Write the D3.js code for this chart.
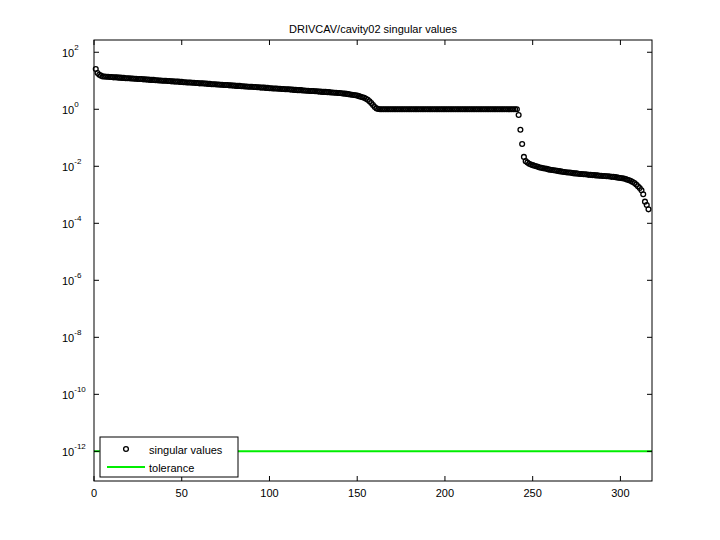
<!DOCTYPE html>
<html>
<head>
<meta charset="utf-8">
<script src="https://cdn.jsdelivr.net/npm/d3@7"></script>
<style>
  body { margin: 0; background: #fff; }
  text { font-family: "Liberation Sans", Arial, sans-serif; font-size: 11px; }
</style>
</head>
<body>
<div id="chart"></div>
<script>
// log10 of singular values, index 1..316
const logSigma = [
  1.41,1.27,1.21,1.18,
  1.15,1.15,1.14,1.14,1.13,1.13,1.12,1.12,1.12,1.11,
  1.11,1.10,1.10,1.09,1.09,1.09,1.08,1.08,1.07,1.07,
  1.06,1.06,1.06,1.05,1.05,1.04,1.04,1.03,1.03,1.03,
  1.02,1.02,1.01,1.01,1.00,1.00,1.00,0.99,0.99,0.98,
  0.98,0.97,0.97,0.97,0.96,0.96,0.95,0.95,0.94,0.94,
  0.94,0.93,0.93,0.92,0.92,0.91,0.91,0.91,0.90,0.90,
  0.89,0.89,0.88,0.88,0.88,0.87,0.87,0.86,0.86,0.85,
  0.85,0.85,0.84,0.84,0.83,0.83,0.82,0.82,0.82,0.81,
  0.81,0.80,0.80,0.79,0.79,0.79,0.78,0.78,0.77,0.77,
  0.76,0.76,0.76,0.75,0.75,0.74,0.74,0.73,0.73,0.73,
  0.72,0.72,0.71,0.71,0.70,0.70,0.70,0.69,0.69,0.68,
  0.68,0.67,0.67,0.67,0.66,0.66,0.65,0.65,0.64,0.64,
  0.64,0.63,0.63,0.62,0.62,0.61,0.61,0.61,0.60,0.60,
  0.59,0.59,0.58,0.58,0.57,0.57,0.56,0.55,0.55,0.54,
  0.53,0.52,0.51,0.50,0.49,0.48,0.46,0.44,0.42,0.40,
  0.37,0.33,0.28,0.22,0.15,0.08,0.03,0.01,
  0,0,0,0,0,0,0,0,0,0,
  0,0,0,0,0,0,0,0,0,0,
  0,0,0,0,0,0,0,0,0,0,
  0,0,0,0,0,0,0,0,0,0,
  0,0,0,0,0,0,0,0,0,0,
  0,0,0,0,0,0,0,0,0,0,
  0,0,0,0,0,0,0,0,0,0,
  0,0,0,0,0,0,0,0,0,
  -0.20,-0.72,-1.22,-1.67,-1.82,
  -1.87,-1.91,-1.94,-1.96,-1.98,-2.00,-2.02,-2.04,-2.05,-2.07,
  -2.08,-2.09,-2.11,-2.12,-2.13,-2.14,-2.15,-2.16,-2.17,-2.18,
  -2.19,-2.20,-2.21,-2.22,-2.22,-2.23,-2.24,-2.25,-2.25,-2.26,
  -2.27,-2.27,-2.28,-2.28,-2.29,-2.30,-2.30,-2.31,-2.31,-2.32,
  -2.32,-2.33,-2.33,-2.34,-2.34,-2.35,-2.35,-2.36,-2.37,-2.37,
  -2.38,-2.39,-2.40,-2.41,-2.42,-2.43,-2.45,-2.47,-2.49,-2.52,
  -2.55,-2.59,-2.64,-2.70,-2.76,
  -2.84,-2.98,-3.24,-3.36,-3.51
];
const tolerance = 1e-12;
const xTicks = [0, 50, 100, 150, 200, 250, 300];
const yExponents = [2, 0, -2, -4, -6, -8, -10, -12];
const title = 'DRIVCAV/cavity02 singular values';

const W = 720, H = 540;
const mLeft = 94, mRight = 652, mTop = 40, mBottom = 481;

const svg = d3.select('#chart').append('svg').attr('width', W).attr('height', H);

const x = d3.scaleLinear().domain([0, 318]).range([mLeft, mRight]);
const y = d3.scaleLog().domain([Math.pow(10, -13.04), Math.pow(10, 2.43)]).range([mBottom, mTop]);

// tolerance line
svg.append('line')
  .attr('x1', mLeft).attr('x2', mRight)
  .attr('y1', y(tolerance)).attr('y2', y(tolerance))
  .attr('stroke', '#00ee00').attr('stroke-width', 2);

// frame
svg.append('rect')
  .attr('x', mLeft).attr('y', mTop).attr('width', mRight - mLeft).attr('height', mBottom - mTop)
  .attr('fill', 'none').attr('stroke', '#000');

// x ticks
const tl = 5;
xTicks.forEach(t => {
  svg.append('line').attr('x1', x(t)).attr('x2', x(t)).attr('y1', mBottom).attr('y2', mBottom - tl).attr('stroke', '#000');
  svg.append('line').attr('x1', x(t)).attr('x2', x(t)).attr('y1', mTop).attr('y2', mTop + tl).attr('stroke', '#000');
  svg.append('text').attr('x', x(t)).attr('y', mBottom + 16).attr('text-anchor', 'middle').text(t);
});

// y ticks
yExponents.forEach(e => {
  const yy = y(Math.pow(10, e));
  svg.append('line').attr('x1', mLeft).attr('x2', mLeft + tl).attr('y1', yy).attr('y2', yy).attr('stroke', '#000');
  svg.append('line').attr('x1', mRight).attr('x2', mRight - tl).attr('y1', yy).attr('y2', yy).attr('stroke', '#000');
  const t = svg.append('text').attr('x', 62).attr('y', yy + 5);
  t.append('tspan').text('10');
  t.append('tspan').attr('dy', -7).attr('font-size', '8px').text(e);
});

// points
svg.append('g').selectAll('circle')
  .data(logSigma)
  .join('circle')
  .attr('cx', (d, i) => x(i + 1))
  .attr('cy', d => y(Math.pow(10, d)))
  .attr('r', 2.4)
  .attr('fill', 'none')
  .attr('stroke', '#000')
  .attr('stroke-width', 1.3);

// title
svg.append('text').attr('x', (mLeft + mRight) / 2).attr('y', 33).attr('text-anchor', 'middle').text(title);

// legend
const lg = svg.append('g');
lg.append('rect').attr('x', 100).attr('y', 437).attr('width', 138).attr('height', 40)
  .attr('fill', '#fff').attr('stroke', '#000');
lg.append('circle').attr('cx', 126).attr('cy', 449).attr('r', 2.4)
  .attr('fill', 'none').attr('stroke', '#000').attr('stroke-width', 1.3);
lg.append('text').attr('x', 149).attr('y', 454).text('singular values');
lg.append('line').attr('x1', 107).attr('x2', 145).attr('y1', 467).attr('y2', 467)
  .attr('stroke', '#00ee00').attr('stroke-width', 2);
lg.append('text').attr('x', 149).attr('y', 472).text('tolerance');
</script>
</body>
</html>
